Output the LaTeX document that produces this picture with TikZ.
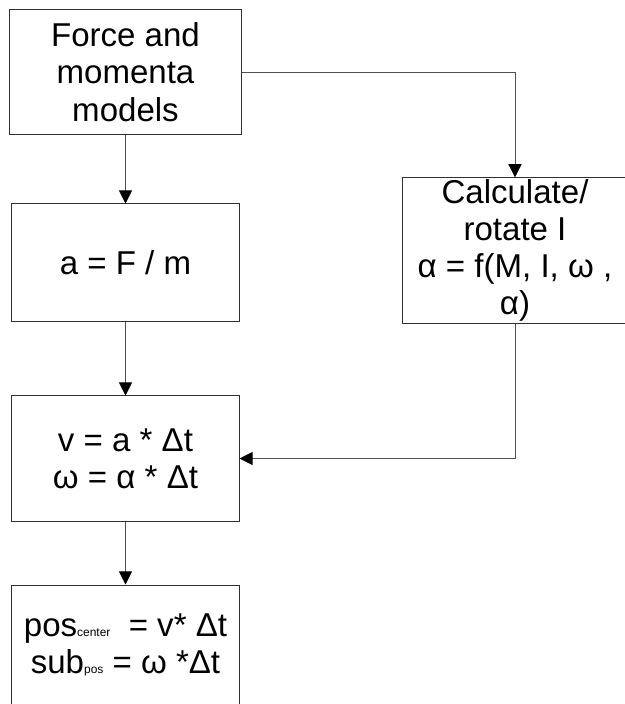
\documentclass[tikz,border=0pt]{standalone}
\usepackage{fontspec}
\setmainfont{Liberation Sans}
\usetikzlibrary{arrows.meta, positioning}
\definecolor{cline}{HTML}{505050}
\definecolor{cedge}{HTML}{303030}
\newcommand{\lowsub}[1]{{\fontsize{8.5}{8.5}\selectfont #1}}
\tikzset{
  every picture/.style={line width=0.7pt},
  block/.style={draw=cedge, align=center, inner sep=1pt,
    font=\fontsize{23.5}{26.5}\selectfont},
  flow/.style={-{Triangle[length=0.33cm, width=0.33cm, color=black, fill=black]}, draw=cline, line width=0.7pt},
}
\begin{document}
\begin{tikzpicture}[x=0.025cm, y=-0.025cm]
  \useasboundingbox (0,0) rectangle (625,704);
  % left column
  \node[block, minimum width=5.775cm, minimum height=3.1cm] (models) at (125.5,72) {Force and\\momenta\\models};
  \node[block, minimum width=5.675cm, minimum height=2.925cm] (accel) at (125.5,262.5) {a = F / m};
  \node[block, minimum width=5.675cm, minimum height=3.125cm] (vel) at (125.5,458.5) {v = a * Δt\\ω = α * Δt};
  \node[block, minimum width=5.675cm, minimum height=3.0cm] (pos) at (125.5,645) {pos\lowsub{center}\ \ = v* Δt\\sub\lowsub{pos} = ω *Δt};
  % right column
  \node[block, minimum width=5.6cm, minimum height=3.575cm] (rot) at (515,250.5) {Calculate/\\rotate I\\α = f(M, I, ω ,\\α)};
  % connectors
  \draw[flow] (models) -- (accel);
  \draw[flow] (accel) -- (vel);
  \draw[flow] (vel) -- (pos);
  \draw[flow] (models.east) -| (rot.north);
  \draw[flow] (rot.south) |- (vel.east);
\end{tikzpicture}
\end{document}
